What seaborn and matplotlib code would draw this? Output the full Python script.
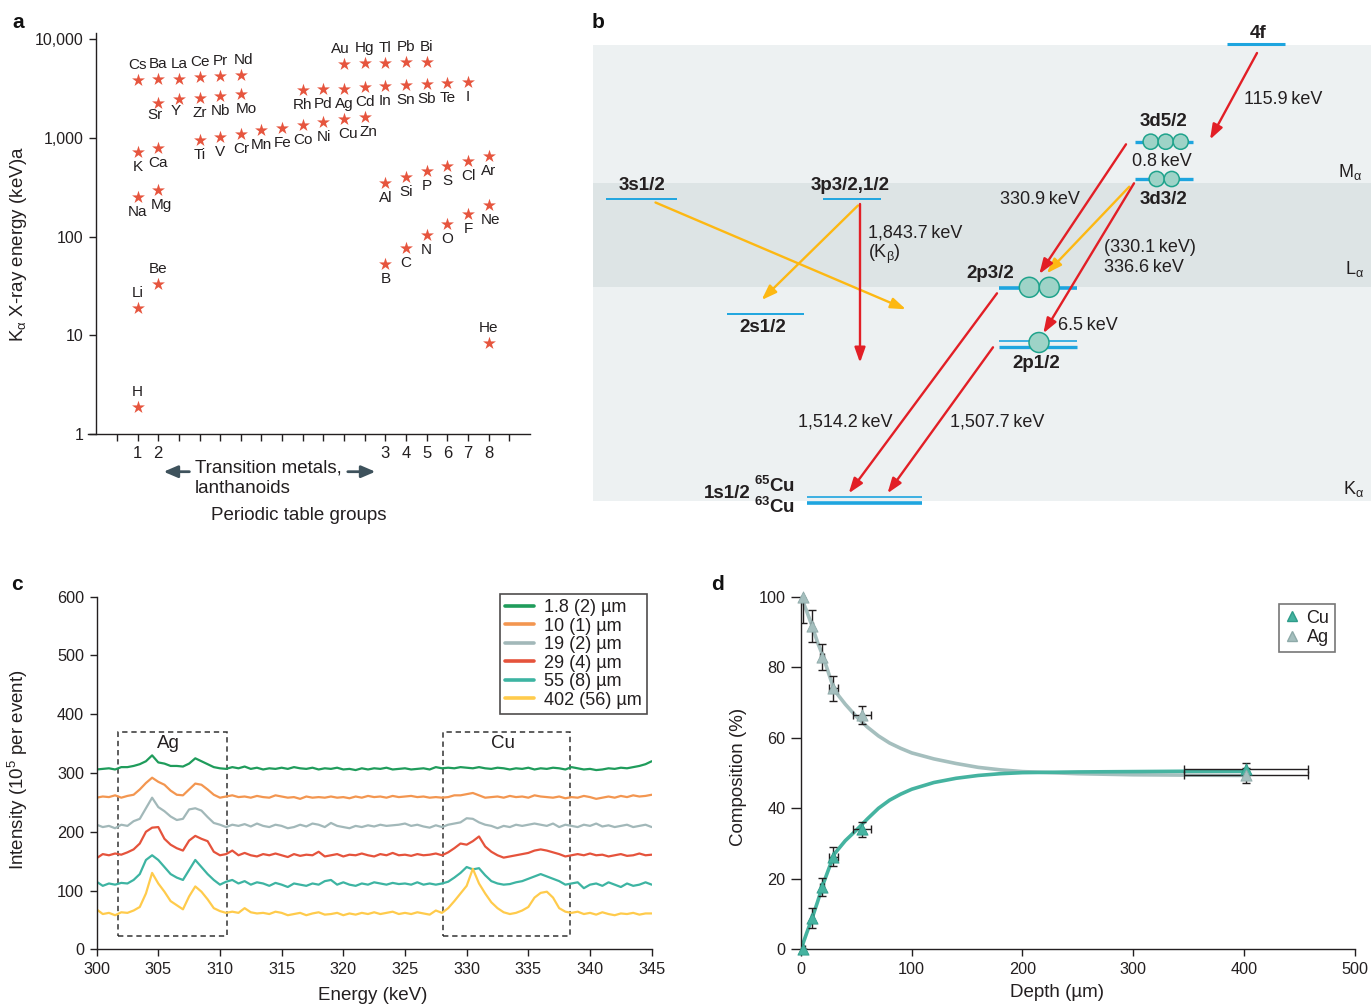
import numpy as np
import pandas as pd
import matplotlib
matplotlib.use("Agg")
import matplotlib.pyplot as plt
import seaborn as sns
from matplotlib.patches import Rectangle, Circle, FancyArrowPatch
from matplotlib.lines import Line2D
from matplotlib.ticker import NullLocator

# ------------------------------------------------------------------ data
# panel a: K-alpha energies by periodic-table column
elem_names = ["H", "He", "Li", "Be", "B", "C", "N", "O", "F", "Ne",
              "Na", "Mg", "Al", "Si", "P", "S", "Cl", "Ar",
              "K", "Ca", "Ti", "V", "Cr", "Mn", "Fe", "Co", "Ni", "Cu", "Zn",
              "Sr", "Y", "Zr", "Nb", "Mo",
              "Rh", "Pd", "Ag", "Cd", "In", "Sn", "Sb", "Te", "I",
              "Cs", "Ba", "La", "Ce", "Pr", "Nd",
              "Au", "Hg", "Tl", "Pb", "Bi"]
elem_col = [1, 18, 1, 2, 13, 14, 15, 16, 17, 18,
            1, 2, 13, 14, 15, 16, 17, 18,
            1, 2, 4, 5, 6, 7, 8, 9, 10, 11, 12,
            2, 3, 4, 5, 6,
            9, 10, 11, 12, 13, 14, 15, 16, 17,
            1, 2, 3, 4, 5, 6,
            11, 12, 13, 14, 15]
elem_energy = [1.89, 8.3, 19, 33, 52.4, 76, 104, 134, 169, 209,
               254, 301, 351, 404, 465, 523, 587, 656,
               720, 796, 952, 1029, 1113, 1203, 1280, 1351, 1449, 1554, 1640,
               2274, 2477, 2576, 2656, 2785,
               3055, 3126, 3183, 3260, 3382, 3461, 3516, 3626, 3710,
               3925, 3953, 4018, 4140, 4237, 4337,
               5700, 5785, 5830, 5870, 5910]
label_above = ["H", "He", "Li", "Be", "Cs", "Ba", "La", "Ce", "Pr", "Nd",
               "Au", "Hg", "Tl", "Pb", "Bi"]
label_dx = {"Cu": 3, "Zn": 3, "Mo": 4, "Mg": 2, "Ne": 1.5, "Au": -2.5,
            "Sr": -2, "Y": -2, "Nd": 2}
group_ticks = list(range(0, 20))
group_labels = {1: "1", 2: "2", 13: "3", 14: "4", 15: "5", 16: "6", 17: "7", 18: "8"}
ytick_vals = [1, 10, 100, 1000, 10000]
ytick_labels = ["1", "10", "100", "1,000", "10,000"]

# panel c: spectra sampled every 0.5 keV from 300 to 345 keV
energy = np.arange(300.0, 345.01, 0.5)
spec_labels = ["1.8 (2) µm", "10 (1) µm", "19 (2) µm", "29 (4) µm", "55 (8) µm", "402 (56) µm"]
spec_1p8 = [306, 307, 308, 306, 310, 310, 312, 315, 320, 330, 318, 316, 312, 312, 311, 316, 325, 320, 315, 310,
            308, 307, 310, 308, 311, 307, 309, 306, 308, 307, 309, 307, 310, 308, 307, 309, 306, 308, 307, 309,
            306, 307, 305, 308, 306, 308, 307, 309, 306, 307, 308, 306, 307, 308, 306, 310, 308, 309, 308, 310,
            309, 308, 310, 308, 307, 309, 308, 306, 308, 307, 309, 306, 308, 307, 309, 308, 306, 310, 308, 306,
            307, 305, 306, 308, 307, 309, 308, 310, 312, 315, 320]
spec_10 = [258, 260, 259, 262, 258, 261, 263, 272, 283, 292, 285, 280, 270, 263, 262, 272, 282, 280, 272, 263,
           258, 260, 262, 259, 260, 258, 261, 259, 258, 262, 260, 258, 259, 256, 260, 258, 259, 258, 260, 258,
           259, 257, 260, 258, 261, 259, 260, 258, 261, 259, 260, 261, 259, 260, 258, 259, 258, 259, 262, 262,
           264, 266, 262, 258, 259, 260, 258, 261, 259, 260, 258, 262, 260, 259, 258, 260, 257, 259, 258, 261,
           259, 256, 258, 260, 258, 261, 259, 262, 260, 261, 263]
spec_19 = [212, 208, 210, 206, 212, 210, 218, 222, 240, 258, 242, 235, 226, 220, 222, 238, 240, 236, 225, 215,
           212, 208, 212, 210, 213, 209, 214, 210, 208, 212, 210, 206, 208, 212, 209, 214, 212, 208, 215, 210,
           208, 206, 210, 208, 211, 209, 212, 210, 211, 212, 214, 210, 212, 209, 207, 211, 208, 212, 214, 216,
           223, 222, 216, 212, 210, 206, 210, 208, 212, 210, 212, 214, 212, 210, 214, 208, 212, 210, 208, 212,
           210, 214, 209, 211, 208, 210, 212, 208, 210, 212, 208]
spec_29 = [155, 162, 160, 163, 161, 165, 170, 180, 200, 207, 208, 188, 178, 172, 168, 185, 193, 188, 184, 166,
           160, 162, 168, 160, 164, 160, 158, 162, 160, 163, 160, 157, 162, 159, 161, 160, 166, 158, 160, 162,
           158, 161, 160, 163, 160, 158, 162, 160, 164, 160, 161, 159, 162, 160, 161, 163, 160, 165, 172, 180,
           178, 184, 192, 175, 166, 160, 156, 158, 160, 162, 164, 168, 170, 168, 165, 162, 158, 160, 162, 160,
           163, 160, 161, 158, 160, 162, 159, 160, 163, 160, 161]
spec_55 = [115, 108, 112, 110, 113, 112, 118, 128, 152, 160, 152, 140, 128, 122, 118, 135, 152, 140, 128, 118,
           110, 115, 118, 112, 116, 110, 114, 112, 108, 113, 110, 106, 112, 110, 108, 112, 110, 116, 118, 110,
           114, 110, 108, 112, 110, 114, 112, 110, 113, 111, 112, 110, 114, 110, 112, 110, 112, 115, 122, 130,
           140, 136, 138, 126, 116, 112, 110, 111, 114, 116, 120, 124, 128, 124, 120, 116, 110, 112, 114, 104,
           110, 112, 108, 114, 110, 106, 112, 108, 110, 114, 110]
spec_402 = [68, 60, 62, 58, 63, 62, 66, 72, 95, 130, 112, 98, 82, 75, 68, 90, 107, 98, 85, 70,
            65, 62, 64, 62, 70, 63, 61, 62, 60, 64, 62, 58, 60, 62, 58, 61, 63, 59, 60, 62,
            58, 61, 59, 62, 60, 63, 60, 62, 64, 60, 62, 60, 63, 61, 59, 66, 62, 70, 82, 95,
            108, 137, 112, 95, 80, 70, 63, 60, 62, 66, 72, 88, 96, 98, 88, 70, 64, 62, 64, 60,
            62, 59, 63, 60, 58, 61, 60, 62, 59, 61, 61]
spec_colors = ["#1F9C5B", "#F39650", "#A2B8B9", "#E5533C", "#3DB4A2", "#FFCB4C"]
box_ag = (301.7, 310.6)
box_cu = (328.1, 338.4)
box_y = (23, 370)

# panel d: composition vs depth
depth = [1.8, 10, 19, 29, 55, 402]
depth_err = [2, 1, 2, 4, 8, 56]
ag_comp = [100, 91.7, 82.8, 74.0, 66.4, 49.3]
ag_err_lo = [7.4, 4.5, 3.7, 3.6, 2.5, 2.0]
ag_err_hi = [7.4, 4.5, 3.7, 3.6, 2.5, 2.0]
cu_comp = [0, 8.8, 17.6, 26.3, 34.0, 51.1]
cu_err = [0, 2.8, 2.5, 2.7, 2.1, 1.7]
fit_depth = [0, 5, 10, 15, 20, 30, 40, 50, 60, 70, 80, 90, 100, 120, 140, 160, 180, 200, 250, 300, 350, 402]
fit_ag = [100, 96, 91.7, 87, 83, 73.5, 69.5, 66, 63, 60.5, 58.5, 57, 55.7, 54, 52.7, 51.6, 50.9, 50.4, 49.8, 49.5, 49.4, 49.3]
fit_cu = [0, 4.5, 8.8, 13.5, 18.5, 27, 30.8, 33.8, 37, 40, 42.3, 44, 45.4, 47.3, 48.5, 49.3, 49.8, 50.1, 50.3, 50.4, 50.5, 50.5]

# ------------------------------------------------------------------ style
W, H = 1371, 1007
sns.set_theme(style="ticks")
plt.rcParams['font.family'] = ['Liberation Sans', 'DejaVu Sans']
plt.rcParams['mathtext.fontset'] = 'custom'
plt.rcParams['mathtext.rm'] = 'Liberation Sans'
plt.rcParams['mathtext.it'] = 'Liberation Sans:italic'
plt.rcParams['mathtext.bf'] = 'Liberation Sans:bold'
INK = "#231F20"
for k in ['axes.edgecolor', 'xtick.color', 'ytick.color', 'text.color', 'axes.labelcolor']:
    plt.rcParams[k] = INK

fig = plt.figure(figsize=(W / 100, H / 100), dpi=100)
fig.patch.set_facecolor("white")


def ax_rect(x0, y0, x1, y1):
    return [x0 / W, 1 - y1 / H, (x1 - x0) / W, (y1 - y0) / H]


def style_axes(ax, tick_fs):
    for s in ['top', 'right']:
        ax.spines[s].set_visible(False)
    for s in ['left', 'bottom']:
        ax.spines[s].set_linewidth(1.0)
        ax.spines[s].set_color(INK)
    ax.tick_params(direction='out', length=5, width=1, labelsize=tick_fs, pad=4, color=INK)


# ------------------------------------------------------------------ panel a
STAR = "#E6553E"
ax_a = fig.add_axes(ax_rect(88, 33.3, 530, 434))
sns.scatterplot(x=elem_col, y=elem_energy, marker="*", s=95, color=STAR, linewidth=0, ax=ax_a, zorder=3)
ax_a.set_yscale('log')
ax_a.set_ylim(1, 11550)
ax_a.set_xlim(-1.4, 20.0)
style_axes(ax_a, 11.5)
ax_a.spines['left'].set_position(('data', -1))
ax_a.set_xticks(group_ticks)
ax_a.set_xticklabels([group_labels.get(t, "") for t in group_ticks])
ax_a.set_yticks(ytick_vals)
ax_a.set_yticklabels(ytick_labels)
ax_a.yaxis.set_minor_locator(NullLocator())
ax_a.tick_params(axis='x', labelsize=12)
for name, c, e in zip(elem_names, elem_col, elem_energy):
    dy = 10.8 if name in label_above else -10.8
    if name in ("Sr", "Y"):
        dy = -8.5
    ax_a.annotate(name, (c, e), xytext=(label_dx.get(name, 0), dy), textcoords='offset points',
                  ha='center', va='center', fontsize=11, color=INK)
ax_a.set_ylabel(r"K$_{\mathrm{α}}$ X-ray energy (keV)a", fontsize=13.5)
ax_a.yaxis.set_label_coords(-0.133, 0.475)
ax_a.set_xlabel("Periodic table groups", fontsize=13.5)
ax_a.xaxis.set_label_coords(0.477, -0.183)

# ------------------------------------------------------------------ panel c
ax_c = fig.add_axes(ax_rect(96.6, 596.7, 651.7, 949.3))
spectra = [spec_1p8, spec_10, spec_19, spec_29, spec_55, spec_402]
for vals, lab, col in zip(spectra, spec_labels, spec_colors):
    sns.lineplot(x=energy, y=vals, color=col, lw=1.6, label=lab, ax=ax_c)
ax_c.set_xlim(300, 345)
ax_c.set_ylim(0, 600)
style_axes(ax_c, 11.7)
ax_c.set_xticks(np.arange(300, 346, 5))
ax_c.set_yticks(np.arange(0, 601, 100))
for (b0, b1), name in [(box_ag, "Ag"), (box_cu, "Cu")]:
    ax_c.add_patch(Rectangle((b0, box_y[0]), b1 - b0, box_y[1] - box_y[0], fill=False,
                             ec="#333333", lw=1.1, ls=(0, (3.5, 2.5)), zorder=1))
    ax_c.text((b0 + b1) / 2 - 0.3, box_y[1] - 20, name, ha='center', va='center', fontsize=13.5)
leg = ax_c.legend(loc='upper right', bbox_to_anchor=(0.992, 1.008), frameon=True, fancybox=False,
                  edgecolor=INK, fontsize=13, handlelength=1.6, labelspacing=0.08, borderpad=0.3,
                  handletextpad=0.55, borderaxespad=0)
leg.get_frame().set_linewidth(1.2)
for l in leg.get_lines():
    l.set_linewidth(2.6)
ax_c.set_xlabel("Energy (keV)", fontsize=13.5)
ax_c.xaxis.set_label_coords(0.497, -0.106)
ax_c.set_ylabel(r"Intensity (10$^{5}$ per event)", fontsize=13.5)
ax_c.yaxis.set_label_coords(-0.12, 0.508)

# ------------------------------------------------------------------ panel d
CU_C = "#45B3A0"
AG_C = "#A5BFBE"
ax_d = fig.add_axes(ax_rect(801, 596.7, 1354.7, 949.3))
sns.lineplot(x=fit_depth, y=fit_ag, color=AG_C, lw=2.6, ax=ax_d)
sns.lineplot(x=fit_depth, y=fit_cu, color=CU_C, lw=2.6, ax=ax_d)
ax_d.errorbar(depth, ag_comp, yerr=[ag_err_lo, ag_err_hi], xerr=depth_err, fmt='none',
              ecolor=INK, elinewidth=1, capsize=3, capthick=1, zorder=4)
ax_d.errorbar(depth, cu_comp, yerr=cu_err, xerr=depth_err, fmt='none',
              ecolor=INK, elinewidth=1, capsize=3, capthick=1, zorder=4)
sns.scatterplot(x=depth, y=cu_comp, marker="^", s=65, color=CU_C, edgecolor="#2E9C8A", linewidth=0.6,
                ax=ax_d, zorder=5, clip_on=False)
sns.scatterplot(x=depth, y=ag_comp, marker="^", s=65, color=AG_C, edgecolor="#8EAAA9", linewidth=0.6,
                ax=ax_d, zorder=5, clip_on=False)
ax_d.set_xlim(0, 500)
ax_d.set_ylim(0, 100)
style_axes(ax_d, 11.7)
ax_d.tick_params(axis='y', length=7)
ax_d.set_xticks(np.arange(0, 501, 100))
ax_d.set_yticks(np.arange(0, 101, 20))
handles = [Line2D([], [], ls='none', marker='^', ms=7.5, color=CU_C, mec="#2E9C8A"),
           Line2D([], [], ls='none', marker='^', ms=7.5, color=AG_C, mec="#8EAAA9")]
leg_d = ax_d.legend(handles, ["Cu", "Ag"], loc='upper right', bbox_to_anchor=(0.964, 0.979),
                    frameon=True, fancybox=False, edgecolor="#555555", fontsize=13,
                    handlelength=0.8, labelspacing=0.15, borderpad=0.3, handletextpad=0.4,
                    borderaxespad=0)
leg_d.get_frame().set_linewidth(1.2)
ax_d.set_xlabel("Depth (µm)", fontsize=13.5)
ax_d.xaxis.set_label_coords(0.463, -0.098)
ax_d.set_ylabel("Composition (%)", fontsize=13.5)
ax_d.yaxis.set_label_coords(-0.098, 0.49)

# ------------------------------------------------------------------ overlay (panel b + annotations)
ov = fig.add_axes([0, 0, 1, 1], zorder=10)
ov.set_xlim(0, W)
ov.set_ylim(H, 0)
ov.axis('off')
ov.patch.set_alpha(0)

# panel letters
for letter, (lx, ly) in {"a": (18, 23), "b": (598, 23), "c": (17, 584), "d": (717, 584)}.items():
    ov.text(lx, ly, letter, fontsize=15, fontweight='bold', ha='center', va='center', color="#111111")

# panel a: transition-metal annotation under the axis
ARROW_A = "#3E525C"
ov.text(194.6, 468.3, "Transition metals,", ha='left', va='center', fontsize=13.5)
ov.text(194.6, 488.7, "lanthanoids", ha='left', va='center', fontsize=13.5)
for xa, xb in [(189.4, 163.6), (347.8, 375.4)]:
    ov.add_patch(FancyArrowPatch((xa, 471.7), (xb, 471.7), arrowstyle='-|>,head_length=0.7,head_width=0.3',
                                 mutation_scale=12, color=ARROW_A, lw=2, shrinkA=0, shrinkB=0))

# panel b: energy-level diagram
BAND_L = "#EDF1F2"
BAND_M = "#DDE4E5"
BLUE = "#1EA5DF"
RED = "#E21F26"
ORANGE = "#FDB813"
CFACE = "#9ED3C7"
CEDGE = "#1FA38C"
bands = [(45, 183.3, BAND_L), (183.3, 286.7, BAND_M), (286.7, 500.7, BAND_L)]
for y0, y1, col in bands:
    ov.add_patch(Rectangle((593, y0), W - 593, y1 - y0, color=col, lw=0, zorder=0))

level_lines = [  # x0, x1, y, lw
    (1227, 1285, 44.3, 2.2),    # 4f
    (1135, 1192.7, 141.7, 2.4),  # 3d5/2
    (1135, 1192.7, 179, 2.4),    # 3d3/2
    (606, 677, 198.7, 1.4),      # 3s1/2
    (823.3, 880.7, 198.7, 1.4),  # 3p
    (999.3, 1077.3, 287.5, 2.6),  # 2p3/2
    (726.8, 803.9, 314.3, 1.4),  # 2s1/2
    (999.3, 1077.3, 340.5, 1.2),  # 2p1/2 a
    (999.3, 1077.3, 346.5, 2.4),  # 2p1/2 b
    (807.4, 922.3, 497.3, 1.2),  # 1s a
    (807.4, 922.3, 502.7, 2.6),  # 1s b
]
for x0, x1, y, lw in level_lines:
    ov.plot([x0, x1], [y, y], color=BLUE, lw=lw, solid_capstyle='butt', zorder=2)

electrons = [(1150.7, 141.7, 7.6), (1165.7, 141.7, 7.6), (1180.7, 141.7, 7.6),
             (1156.7, 179, 7.6), (1171.7, 179, 7.6),
             (1029.3, 287.3, 10), (1049.3, 287.3, 10),
             (1039, 342.5, 10)]
for cx, cy, r in electrons:
    ov.add_patch(Circle((cx, cy), r, fc=CFACE, ec=CEDGE, lw=1.1, zorder=3))

transitions = [  # start, end, colour
    ((655.5, 202.5), (905.9, 309.3), ORANGE),
    ((858, 205.5), (761.6, 300), ORANGE),
    ((1129.3, 186.7), (1046.7, 273.3), ORANGE),
    ((1257, 53), (1210, 139.5), RED),
    ((1126, 144.3), (1039.3, 274), RED),
    ((1134, 183.3), (1043.3, 333.3), RED),
    ((860, 204), (860, 362.7), RED),
    ((997, 293.3), (848.7, 493.3), RED),
    ((993, 347.3), (887.5, 493.3), RED),
]
for (xa, ya), (xb, yb), col in transitions:
    ov.add_patch(FancyArrowPatch((xa, ya), (xb, yb), arrowstyle='-|>,head_length=0.9,head_width=0.32',
                                 mutation_scale=10, color=col, lw=1.7, shrinkA=0, shrinkB=0, zorder=4))

bold_labels = [("4f", 1258, 33), ("3d5/2", 1164, 122), ("3d3/2", 1163, 200), ("3s1/2", 641.7, 185),
               ("3p3/2,1/2", 850, 185), ("2p3/2", 990.5, 274), ("2s1/2", 763, 328),
               ("2p1/2", 1036, 364), ("1s1/2", 727, 493)]
for txt, x, y in bold_labels:
    ov.text(x, y, txt, fontsize=13.5, fontweight='bold', ha='center', va='center', zorder=5)
ov.text(754, 486, r"$^{\mathbf{65}}$Cu", fontsize=13.5, fontweight='bold', ha='left', va='center')
ov.text(754, 507, r"$^{\mathbf{63}}$Cu", fontsize=13.5, fontweight='bold', ha='left', va='center')

keV = "\u2009keV"
energy_labels = [("115.9" + keV, 1283, 99, 'center'), ("0.8" + keV, 1162, 161.5, 'center'),
                 ("330.9" + keV, 1040, 199, 'center'), ("(330.1" + keV + ")", 1104, 247, 'left'),
                 ("336.6" + keV, 1104, 267.5, 'left'), ("1,843.7" + keV, 868, 233, 'left'),
                 ("6.5" + keV, 1088, 326, 'center'), ("1,514.2" + keV, 845, 422, 'center'),
                 ("1,507.7" + keV, 997, 422, 'center')]
for txt, x, y, ha in energy_labels:
    ov.text(x, y, txt, fontsize=13, ha=ha, va='center', zorder=5)
ov.text(868, 254, r"(K$_{\mathrm{β}}$)", fontsize=13, ha='left', va='center')
for txt, x, y in [(r"M$_{\mathrm{α}}$", 1350, 172), (r"L$_{\mathrm{α}}$", 1355, 269),
                  (r"K$_{\mathrm{α}}$", 1354, 489)]:
    ov.text(x, y, txt, fontsize=13, ha='center', va='center')

fig.savefig("out.png", dpi=100)
